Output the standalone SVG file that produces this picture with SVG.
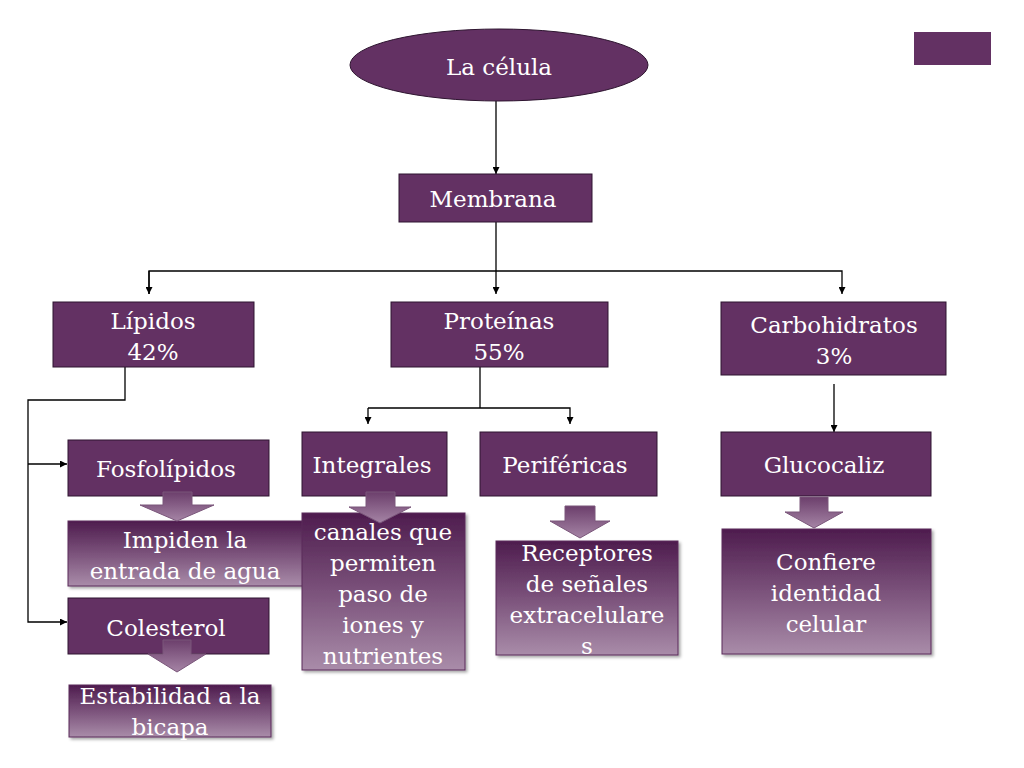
<svg xmlns="http://www.w3.org/2000/svg" width="1024" height="768" viewBox="0 0 1024 768">
<defs>
<linearGradient id="gBox" x1="0" y1="0" x2="0" y2="1">
<stop offset="0" stop-color="#4e1c4e"/>
<stop offset="0.5" stop-color="#7b527b"/>
<stop offset="1" stop-color="#a98ca9"/>
</linearGradient>
<linearGradient id="gArr" x1="0" y1="0" x2="0" y2="1">
<stop offset="0" stop-color="#6c3f6c"/>
<stop offset="1" stop-color="#a584a5"/>
</linearGradient>
<marker id="ah" viewBox="0 0 10 10" refX="10" refY="5" markerWidth="7" markerHeight="7" markerUnits="userSpaceOnUse" orient="auto">
<path d="M0,0 L10,5 L0,10 z" fill="#000"/>
</marker>
<filter id="sh" x="-10%" y="-10%" width="130%" height="130%">
<feDropShadow dx="2" dy="2" stdDeviation="1.5" flood-color="#000" flood-opacity="0.35"/>
</filter>
</defs>
<style>
.n{fill:#633163;stroke:#2e1530;stroke-width:1}
.g{fill:url(#gBox);stroke:#5a2a5a;stroke-width:1;filter:url(#sh)}
.ba{fill:url(#gArr);stroke:#7a567a;stroke-width:1}
.t{font-family:"DejaVu Serif","Liberation Serif",serif;font-size:23px;fill:#fff;text-anchor:middle}
.c{fill:none;stroke:#000;stroke-width:1.3}
</style>
<rect width="1024" height="768" fill="#fff"/>
<rect x="914" y="32" width="77" height="33" fill="#633163"/>

<g id="connectors">
<path class="c" d="M496,101 V174" marker-end="url(#ah)"/>
<path class="c" d="M496,222 V294" marker-end="url(#ah)"/>
<path class="c" d="M149,294 V271 H842 V294" marker-end="url(#ah)"/>
<path class="c" d="M149,271 V294" marker-end="url(#ah)"/>
<path class="c" d="M480,367 V408"/>
<path class="c" d="M368,408 H570 V424" marker-end="url(#ah)"/>
<path class="c" d="M368,408 V424" marker-end="url(#ah)"/>
<path class="c" d="M834,384 V432" marker-end="url(#ah)"/>
<path class="c" d="M125,367 V400 H28 V622 H67" marker-end="url(#ah)"/>
<path class="c" d="M28,464 H67" marker-end="url(#ah)"/>
</g>

<g id="n-celula">
<ellipse cx="499" cy="65" rx="149" ry="36" class="n"/>
<text class="t" x="499" y="75">La célula</text>
</g>
<g id="n-membrana">
<rect class="n" x="399" y="174" width="193" height="48"/>
<text class="t" x="493" y="207">Membrana</text>
</g>
<g id="n-lipidos">
<rect class="n" x="53" y="302" width="201" height="65"/>
<text class="t" x="153" y="329">Lípidos</text>
<text class="t" x="153" y="360">42%</text>
</g>
<g id="n-proteinas">
<rect class="n" x="391" y="302" width="217" height="65"/>
<text class="t" x="499" y="329">Proteínas</text>
<text class="t" x="499" y="360">55%</text>
</g>
<g id="n-carbohidratos">
<rect class="n" x="721" y="302" width="225" height="73"/>
<text class="t" x="834" y="333">Carbohidratos</text>
<text class="t" x="834" y="364">3%</text>
</g>
<g id="n-integrales">
<rect class="n" x="302" y="432" width="145" height="64"/>
<text class="t" x="372" y="473">Integrales</text>
</g>
<g id="n-perifericas">
<rect class="n" x="480" y="432" width="177" height="64"/>
<text class="t" x="565" y="473">Periféricas</text>
</g>
<g id="n-glucocaliz">
<rect class="n" x="721" y="432" width="210" height="64"/>
<text class="t" x="824" y="473">Glucocaliz</text>
</g>
<g id="n-fosfolipidos">
<rect class="n" x="68" y="440" width="201" height="56"/>
<text class="t" x="166" y="477">Fosfolípidos</text>
</g>
<g id="n-impiden">
<rect class="g" x="68" y="521" width="235" height="65"/>
<text class="t" x="185" y="548">Impiden la</text>
<text class="t" x="185" y="579">entrada de agua</text>
</g>
<g id="n-colesterol">
<rect class="n" x="68" y="598" width="201" height="56"/>
<text class="t" x="166" y="636">Colesterol</text>
</g>
<g id="n-estabilidad">
<rect class="g" x="69" y="685" width="202" height="52"/>
<text class="t" x="170" y="704">Estabilidad a la</text>
<text class="t" x="170" y="735">bicapa</text>
</g>
<g id="n-canales">
<rect class="g" x="302" y="513" width="163" height="157"/>
<text class="t" x="383" y="540">canales que</text>
<text class="t" x="383" y="571">permiten</text>
<text class="t" x="383" y="602">paso de</text>
<text class="t" x="383" y="633">iones y</text>
<text class="t" x="383" y="664">nutrientes</text>
</g>
<g id="n-receptores">
<rect class="g" x="496" y="541" width="182" height="114"/>
<text class="t" x="587" y="561">Receptores</text>
<text class="t" x="587" y="592">de señales</text>
<text class="t" x="587" y="623">extracelulare</text>
<text class="t" x="587" y="654">s</text>
</g>
<g id="n-confiere">
<rect class="g" x="722" y="529" width="209" height="125"/>
<text class="t" x="826" y="570">Confiere</text>
<text class="t" x="826" y="601">identidad</text>
<text class="t" x="826" y="632">celular</text>
</g>

<g id="block-arrows">
<path class="ba" d="M163,492 H192 V505 H214 L177,521 L140,505 H163 Z"/>
<path class="ba" d="M163,640 H191 V654 H206 L177,672 L148,654 H163 Z"/>
<path class="ba" d="M366,492 H395 V507 H411 L380,523 L349,507 H366 Z"/>
<path class="ba" d="M565,506 H595 V521 H610 L580,538 L550,521 H565 Z"/>
<path class="ba" d="M800,497 H828 V512 H843 L814,528 L785,512 H800 Z"/>
</g>
</svg>
